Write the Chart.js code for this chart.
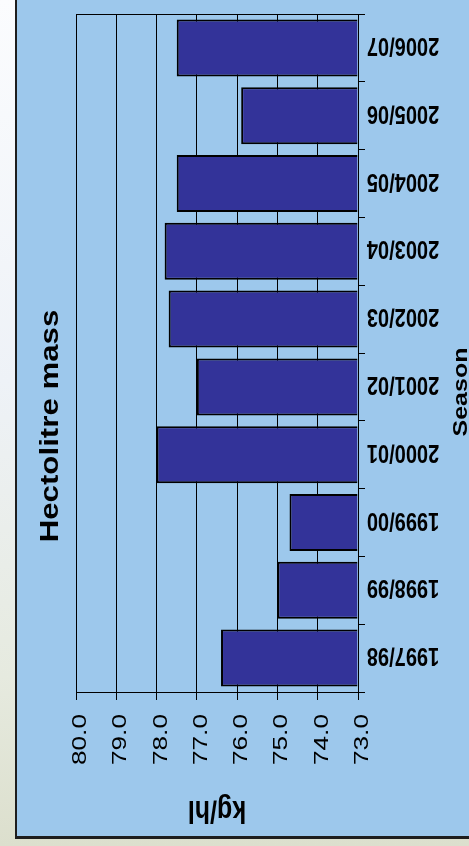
<!DOCTYPE html>
<html>
<head>
<meta charset="utf-8">
<title>Hectolitre mass</title>
<script src="https://cdn.jsdelivr.net/npm/chart.js@4.4.1/dist/chart.umd.min.js"></script>
<style>
  html, body { margin: 0; padding: 0; }
  body {
    width: 469px; height: 846px; overflow: hidden; position: relative;
    background: linear-gradient(to bottom, #fbfcfe 0%, #eef2f7 45%, #e6eadf 80%, #dcdfcd 100%);
  }
  #panel {
    position: absolute; left: 15px; top: -10px; width: 480px; height: 849px;
    box-sizing: border-box; background: #9dc8ec;
    border-left: 2px solid #1e1e1e; border-bottom: 3px solid #1e1e1e;
  }
  #hlChart { position: absolute; left: 0; top: 0; }
</style>
</head>
<body>
<div id="panel"></div>
<canvas id="hlChart" width="469" height="846"></canvas>
<script>
// data
const seasons = ["1997/98", "1998/99", "1999/00", "2000/01", "2001/02",
                 "2002/03", "2003/04", "2004/05", "2005/06", "2006/07"];
const massValues = [76.4, 75.0, 74.7, 78.0, 77.0, 77.7, 77.8, 77.5, 75.9, 77.5];
const valueTicks = [73, 74, 75, 76, 77, 78, 79, 80];
const chartTitle = "Hectolitre mass";
const valueTitle = "kg/hl";
const categoryTitle = "Season";

const FONT = "'Liberation Sans', Arial, sans-serif";
const yStretch = 1.25; // the source picture is stretched vertically

function drawText(ctx, text, x, y, angle, font, align) {
  ctx.save();
  ctx.translate(x, y);
  ctx.scale(1, yStretch);
  ctx.rotate(angle);
  ctx.font = font;
  ctx.fillStyle = "#000";
  ctx.textAlign = align || "center";
  ctx.textBaseline = "alphabetic";
  ctx.fillText(text, 0, 0);
  ctx.restore();
}

const labelsPlugin = {
  id: "labels",
  afterDraw(chart) {
    const ctx = chart.ctx;
    const area = chart.chartArea;
    const xs = chart.scales.x;
    const ys = chart.scales.y;

    // frame line on top of the plot
    ctx.save();
    ctx.strokeStyle = "#000";
    ctx.lineWidth = 1;
    ctx.beginPath();
    ctx.moveTo(area.left, Math.round(area.top) + 0.5);
    ctx.lineTo(area.right, Math.round(area.top) + 0.5);
    ctx.stroke();
    ctx.restore();

    // value ticks, reading upwards
    valueTicks.forEach((v) => {
      const x = xs.getPixelForValue(v);
      drawText(ctx, v.toFixed(1), x + 10, area.bottom + 22, -Math.PI / 2,
               "21px " + FONT, "right");
    });

    // season labels, upside down
    seasons.forEach((s, i) => {
      const y = ys.getPixelForValue(i);
      drawText(ctx, s, area.right + 45, y - 10, Math.PI, "bold 20px " + FONT);
    });

    drawText(ctx, chartTitle, 58, 426, -Math.PI / 2, "bold 25px " + FONT);
    drawText(ctx, valueTitle, (area.left + area.right) / 2, 801, Math.PI,
             "bold 25px " + FONT);
    drawText(ctx, categoryTitle, 467, 392, -Math.PI / 2, "bold 20px " + FONT);
  },
};

new Chart(document.getElementById("hlChart"), {
  type: "bar",
  data: {
    labels: seasons,
    datasets: [{
      data: massValues,
      base: 73,
      backgroundColor: "#333399",
      borderColor: "#000000",
      borderWidth: 2,
      barPercentage: 0.84,
      categoryPercentage: 1.0,
    }],
  },
  options: {
    indexAxis: "y",
    responsive: false,
    animation: false,
    layout: { padding: { left: 76, top: 14, right: 0, bottom: 0 } },
    plugins: {
      legend: { display: false },
      title: { display: false },
      tooltip: { enabled: false },
    },
    scales: {
      x: {
        position: "bottom",
        reverse: true,
        min: 73,
        max: 80,
        ticks: { display: false, stepSize: 1 },
        grid: { color: "#000", lineWidth: 1, tickLength: 8 },
        border: { display: true, color: "#000", width: 1 },
        afterFit(scale) { scale.height = 154; },
      },
      y: {
        position: "right",
        reverse: true,
        ticks: { display: false },
        grid: { offset: true, drawOnChartArea: false, color: "#000", tickLength: 7 },
        border: { display: true, color: "#000", width: 1 },
        afterFit(scale) { scale.width = 111; },
      },
    },
  },
  plugins: [labelsPlugin],
});
</script>
</body>
</html>
